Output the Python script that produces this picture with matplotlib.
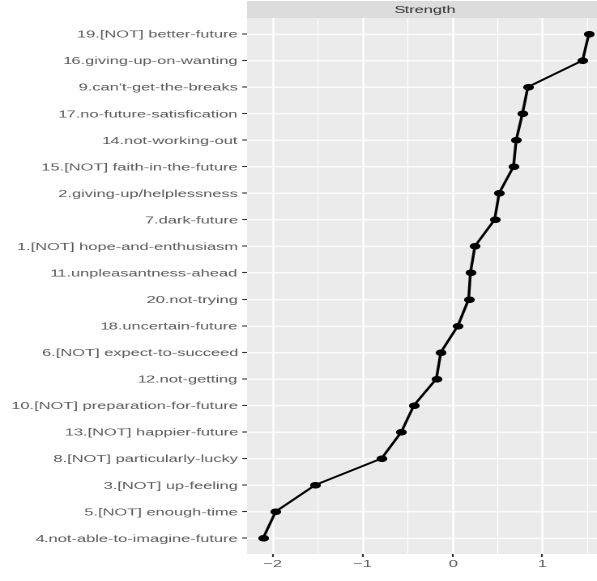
import io
import numpy as np
import matplotlib
matplotlib.use("Agg")
import matplotlib.pyplot as plt
from matplotlib.patches import Rectangle
from matplotlib.ticker import MultipleLocator

# items ordered bottom to top
items = [
    "4.not-able-to-imagine-future",
    "5.[NOT] enough-time",
    "3.[NOT] up-feeling",
    "8.[NOT] particularly-lucky",
    "13.[NOT] happier-future",
    "10.[NOT] preparation-for-future",
    "12.not-getting",
    "6.[NOT] expect-to-succeed",
    "18.uncertain-future",
    "20.not-trying",
    "11.unpleasantness-ahead",
    "1.[NOT] hope-and-enthusiasm",
    "7.dark-future",
    "2.giving-up/helplessness",
    "15.[NOT] faith-in-the-future",
    "14.not-working-out",
    "17.no-future-satisfication",
    "9.can't-get-the-breaks",
    "16.giving-up-on-wanting",
    "19.[NOT] better-future",
]
strength = [-2.11, -1.97, -1.53, -0.79, -0.57, -0.43, -0.18, -0.13, 0.06, 0.18,
            0.20, 0.25, 0.47, 0.52, 0.68, 0.71, 0.78, 0.84, 1.45, 1.52]
xticks = [-2, -1, 0, 1]

plt.rcParams['font.family'] = ['Liberation Sans', 'DejaVu Sans']

# final image size and horizontal stretch of the output
W, H = 597, 581
sx = 1.62
Wu = W / sx  # drawing width before stretching

fig = plt.figure(figsize=(Wu / 100, H / 100), dpi=100)
left, right, top, bottom = 247 / sx, 605 / sx, 18, 554
ax = fig.add_axes([left / Wu, (H - bottom) / H, (right - left) / Wu, (bottom - top) / H])
ax.set_facecolor('#EBEBEB')
for s in ax.spines.values():
    s.set_visible(False)

ypos = list(range(len(items)))
ax.plot(strength, ypos, color='black', lw=1.25, zorder=3)
ax.scatter(strength, ypos, s=14, color='black', zorder=4)

ax.set_xlim(-2.29, 1.70)
ax.set_ylim(-0.6, len(items) - 0.4)
ax.set_xticks(xticks)
ax.set_xticklabels([str(t).replace('-', '\u2212') for t in xticks])
ax.xaxis.set_minor_locator(MultipleLocator(0.5))
ax.set_yticks(ypos)
ax.set_yticklabels(items)

ax.grid(which='major', color='white', lw=0.9)
ax.grid(which='minor', axis='x', color='white', lw=0.45)
ax.set_axisbelow(True)
ax.tick_params(which='major', length=2, width=0.8, color='#333333',
               labelcolor='#595959', labelsize=7.3, pad=2)
ax.tick_params(which='minor', length=0)

# facet strip
fig.patches.append(Rectangle((left / Wu, (H - top) / H), (right - left) / Wu, 17 / H,
                             transform=fig.transFigure, facecolor='#DCDCDC',
                             edgecolor='none'))
fig.text((425 / sx) / Wu, (H - 10) / H, 'Strength', ha='center', va='center',
         fontsize=7.3, color='#333333')

# render at double resolution, then stretch horizontally to W x H
buf = io.BytesIO()
fig.savefig(buf, format='png', dpi=200)
buf.seek(0)
img = plt.imread(buf)[:, :, :3]
h0, w0 = img.shape[:2]

def resample(a, coords, axis):
    c = np.clip(coords, 0, a.shape[axis] - 1)
    i0 = np.floor(c).astype(int)
    i1 = np.minimum(i0 + 1, a.shape[axis] - 1)
    t = c - i0
    shape = [1, 1, 1]
    shape[axis] = -1
    t = t.reshape(shape)
    return np.take(a, i0, axis=axis) * (1 - t) + np.take(a, i1, axis=axis) * t

# box-average vertically (2:1), then interpolate to the final size
img = img[: (h0 // 2) * 2].reshape(h0 // 2, 2, w0, 3).mean(axis=1)
img = resample(img, (np.arange(H) + 0.5) * img.shape[0] / H - 0.5, 0)
img = resample(img, (np.arange(W) + 0.5) * w0 / W - 0.5, 1)
plt.imsave('out.png', np.clip(img, 0, 1))
